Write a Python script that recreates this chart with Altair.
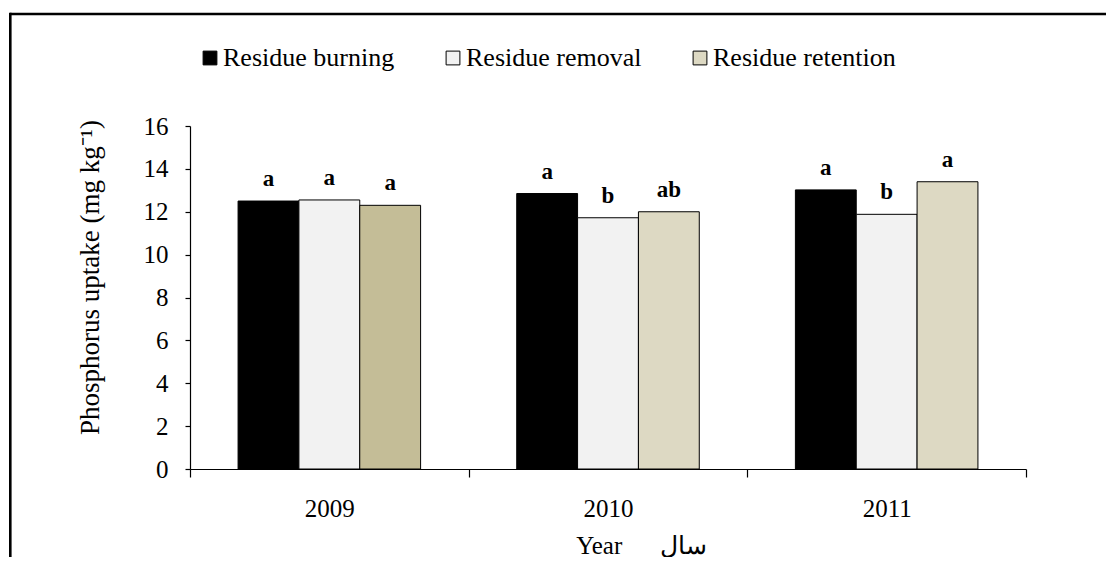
import altair as alt
import pandas as pd

years = ["2009", "2009", "2009", "2010", "2010", "2010", "2011", "2011", "2011"]
treatments = ["Residue burning", "Residue removal", "Residue retention"] * 3
uptake = [12.5, 12.55, 12.3, 12.85, 11.72, 12.0, 13.02, 11.88, 13.4]
letters = ["a", "a", "a", "a", "b", "ab", "a", "b", "a"]

treat_order = ["Residue burning", "Residue removal", "Residue retention"]
treat_colors = ["#000000", "#F2F2F2", "#DDD9C3"]
retention_2009_color = "#C4BD97"
y_ticks = [0, 2, 4, 6, 8, 10, 12, 14, 16]

df = pd.DataFrame({"year": years, "treatment": treatments,
                   "uptake": uptake, "letter": letters})

FONT = "Liberation Serif"
NB = "\u00a0"

x_enc = alt.X("year:N", scale=alt.Scale(paddingInner=0, paddingOuter=0),
              axis=alt.Axis(title="Year" + NB * 6 + "سال", labelAngle=0, tickBand="extent",
                            tickSize=8, labelPadding=19, labelFontSize=25,
                            titleFontSize=25, titleFontWeight="normal",
                            titleX=451, titleY=76, titleBaseline="middle",
                            titleAlign="center", labelFont=FONT, titleFont=FONT))
xoff = alt.XOffset("treatment:N", sort=treat_order,
                   scale=alt.Scale(paddingInner=0, paddingOuter=0.79))
y_enc = alt.Y("uptake:Q", scale=alt.Scale(domain=[0, 16], nice=False),
              axis=alt.Axis(title="Phosphorus uptake (mg kg⁻¹)", values=y_ticks,
                            tickSize=5, labelPadding=17, labelFontSize=25,
                            titleFontSize=27, titleFontWeight="normal",
                            titleAngle=270, titleX=-100, titleY=151,
                            titleBaseline="middle", titleAlign="center",
                            grid=False, labelFont=FONT, titleFont=FONT))

color = alt.condition(
    (alt.datum.year == "2009") & (alt.datum.treatment == "Residue retention"),
    alt.value(retention_2009_color),
    alt.Color("treatment:N", sort=treat_order,
              scale=alt.Scale(domain=treat_order, range=treat_colors),
              legend=alt.Legend(title=None, orient="none", direction="horizontal",
                                legendX=7, legendY=-81, symbolType="square",
                                symbolSize=190, symbolStrokeColor="black",
                                symbolStrokeWidth=1, labelFontSize=26,
                                labelFont=FONT, columnPadding=45,
                                labelOffset=0, padding=0, labelLimit=600,
                                labelColor="black", symbolOpacity=1))
)

bars = alt.Chart(df).mark_bar(stroke="black", strokeWidth=1).encode(
    x=x_enc, xOffset=xoff, y=y_enc, fill=color
)

labels = alt.Chart(df).mark_text(dy=-15, baseline="alphabetic", font=FONT,
                                 fontWeight="bold", fontSize=23, color="black").encode(
    x="year:N", xOffset=alt.XOffset("treatment:N", sort=treat_order),
    y="uptake:Q", text="letter:N"
)

frame_data = alt.Data(values=[{"k": 1}])
frame_top = alt.Chart(frame_data).mark_rule(color="black", strokeWidth=2.6).encode(
    x=alt.value(-180), x2=alt.value(950), y=alt.value(-112)
)
frame_left = alt.Chart(frame_data).mark_rule(color="black", strokeWidth=2.6).encode(
    x=alt.value(-179.7), y=alt.value(-113.3), y2=alt.value(460)
)

chart = alt.layer(bars, labels, frame_top, frame_left).properties(
    width=836, height=343,
    autosize=alt.AutoSizeParams(type="none"),
    padding={"left": 182, "top": 118, "right": 80, "bottom": 88},
).configure(background="white").configure_view(stroke=None).configure_axis(
    labelColor="black", titleColor="black",
    domainColor="black", tickColor="black", domainWidth=1.2, tickWidth=1.2
)

chart.save("out.html", embed_options={"renderer": "svg", "actions": False})
